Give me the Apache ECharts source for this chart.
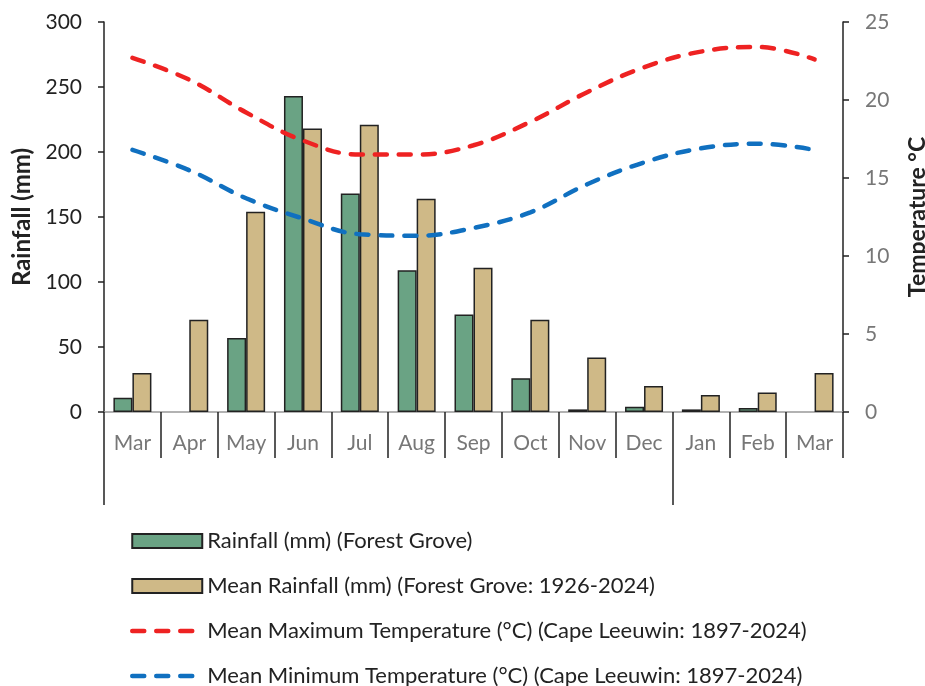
<!DOCTYPE html>
<html><head><meta charset="utf-8">
<script src="https://cdn.jsdelivr.net/npm/echarts@6/dist/echarts.min.js"></script>
<style>html,body{margin:0;padding:0;background:#fff}#c{width:925px;height:686px}</style>
</head><body><div id="c"></div>
<script>
const months = ['Mar','Apr','May','Jun','Jul','Aug','Sep','Oct','Nov','Dec','Jan','Feb','Mar'];
const rainfall = [11, null, 57, 243, 168, 109, 75, 26, 2, 4, 2, 3, null];
const meanRainfall = [30, 71, 154, 218, 221, 164, 111, 71, 42, 20, 13, 15, 30];
const maxTemp = [22.7, 21.3, 19.2, 17.4, 16.5, 16.5, 17.1, 18.6, 20.5, 22.1, 23.1, 23.4, 22.6];
const minTemp = [16.8, 15.5, 13.7, 12.4, 11.4, 11.3, 11.8, 12.8, 14.6, 16.0, 16.9, 17.2, 16.8];
const rainTicks = {min: 0, max: 300, interval: 50};
const tempTicks = {min: 0, max: 25, interval: 5};
const yearBoundaries = [0, 10];
const names = ['Rainfall (mm) (Forest Grove)', 'Mean Rainfall (mm) (Forest Grove: 1926-2024)',
  'Mean Maximum Temperature (°C) (Cape Leeuwin: 1897-2024)',
  'Mean Minimum Temperature (°C) (Cape Leeuwin: 1897-2024)'];

const FONT = 'Lato, "Open Sans", sans-serif';
const DASH = [12, 12];
const chart = echarts.init(document.getElementById('c'), null, {renderer: 'canvas'});
chart.setOption({
  animation: false,
  textStyle: {fontFamily: FONT},
  grid: {left: 104, right: 82, top: 22, bottom: 274, containLabel: false, outerBoundsMode: 'none'},
  legend: {
    orient: 'vertical', left: 130, top: 530, padding: 0, height: 300, width: 780,
    itemWidth: 70, itemHeight: 14, itemGap: 23,
    textStyle: {fontFamily: FONT, fontSize: 22, color: '#222'},
    lineStyle: {width: 4.5, type: DASH, cap: 'round'},
    data: [
      {name: names[0], icon: 'rect'}, {name: names[1], icon: 'rect'},
      {name: names[2], itemStyle: {opacity: 0}},
      {name: names[3], itemStyle: {opacity: 0}}
    ]
  },
  xAxis: [{
    type: 'category', data: months, boundaryGap: true,
    axisLine: {show: true, lineStyle: {color: '#999', width: 1.5}},
    axisTick: {show: true, interval: 0, length: 46, lineStyle: {color: '#222', width: 1.5}},
    axisLabel: {interval: 0, color: '#777', fontSize: 21, margin: 21, fontFamily: FONT}
  }, {
    type: 'value', min: 0, max: months.length, position: 'bottom', gridIndex: 0,
    axisLine: {show: false}, splitLine: {show: false},
    axisLabel: {show: false},
    axisTick: {show: true, customValues: yearBoundaries, length: 93, lineStyle: {color: '#222', width: 1.5}}
  }],
  yAxis: [{
    type: 'value', ...rainTicks, name: 'Rainfall (mm)', nameLocation: 'middle', nameGap: 69,
    nameTextStyle: {fontSize: 24, fontWeight: 'bold', color: '#222', fontFamily: FONT},
    axisLine: {show: true, lineStyle: {color: '#222', width: 1.5}},
    axisTick: {show: true, length: 6, lineStyle: {color: '#222', width: 1.5}},
    axisLabel: {color: '#222', fontSize: 21, margin: 22, fontFamily: FONT},
    splitLine: {show: false}
  }, {
    type: 'value', ...tempTicks, position: 'right', name: 'Temperature °C', nameLocation: 'middle', nameGap: 63,
    nameTextStyle: {fontSize: 23, fontWeight: 'bold', color: '#222', fontFamily: FONT},
    axisLine: {show: true, lineStyle: {color: '#222', width: 1.5}},
    axisTick: {show: true, length: 6, lineStyle: {color: '#222', width: 1.5}},
    axisLabel: {color: '#777', fontSize: 21, margin: 22, fontFamily: FONT},
    splitLine: {show: false}
  }],
  series: [{
    name: names[0], type: 'bar', data: rainfall, barWidth: 19, barGap: '0%',
    itemStyle: {color: '#6aa384', borderColor: '#222', borderWidth: 1.5}
  }, {
    name: names[1], type: 'bar', data: meanRainfall, barWidth: 19, barGap: '0%',
    itemStyle: {color: '#cfb987', borderColor: '#222', borderWidth: 1.5}
  }, {
    name: names[2], type: 'line', yAxisIndex: 1,
    data: maxTemp, smooth: 0.4, symbol: 'none',
    lineStyle: {color: '#ee2222', width: 4.5, type: DASH, cap: 'round'},
    itemStyle: {color: '#ee2222'}
  }, {
    name: names[3], type: 'line', yAxisIndex: 1,
    data: minTemp, smooth: 0.4, symbol: 'none',
    lineStyle: {color: '#1070c0', width: 4.5, type: DASH, cap: 'round'},
    itemStyle: {color: '#1070c0'}
  }]
});
</script></body></html>
